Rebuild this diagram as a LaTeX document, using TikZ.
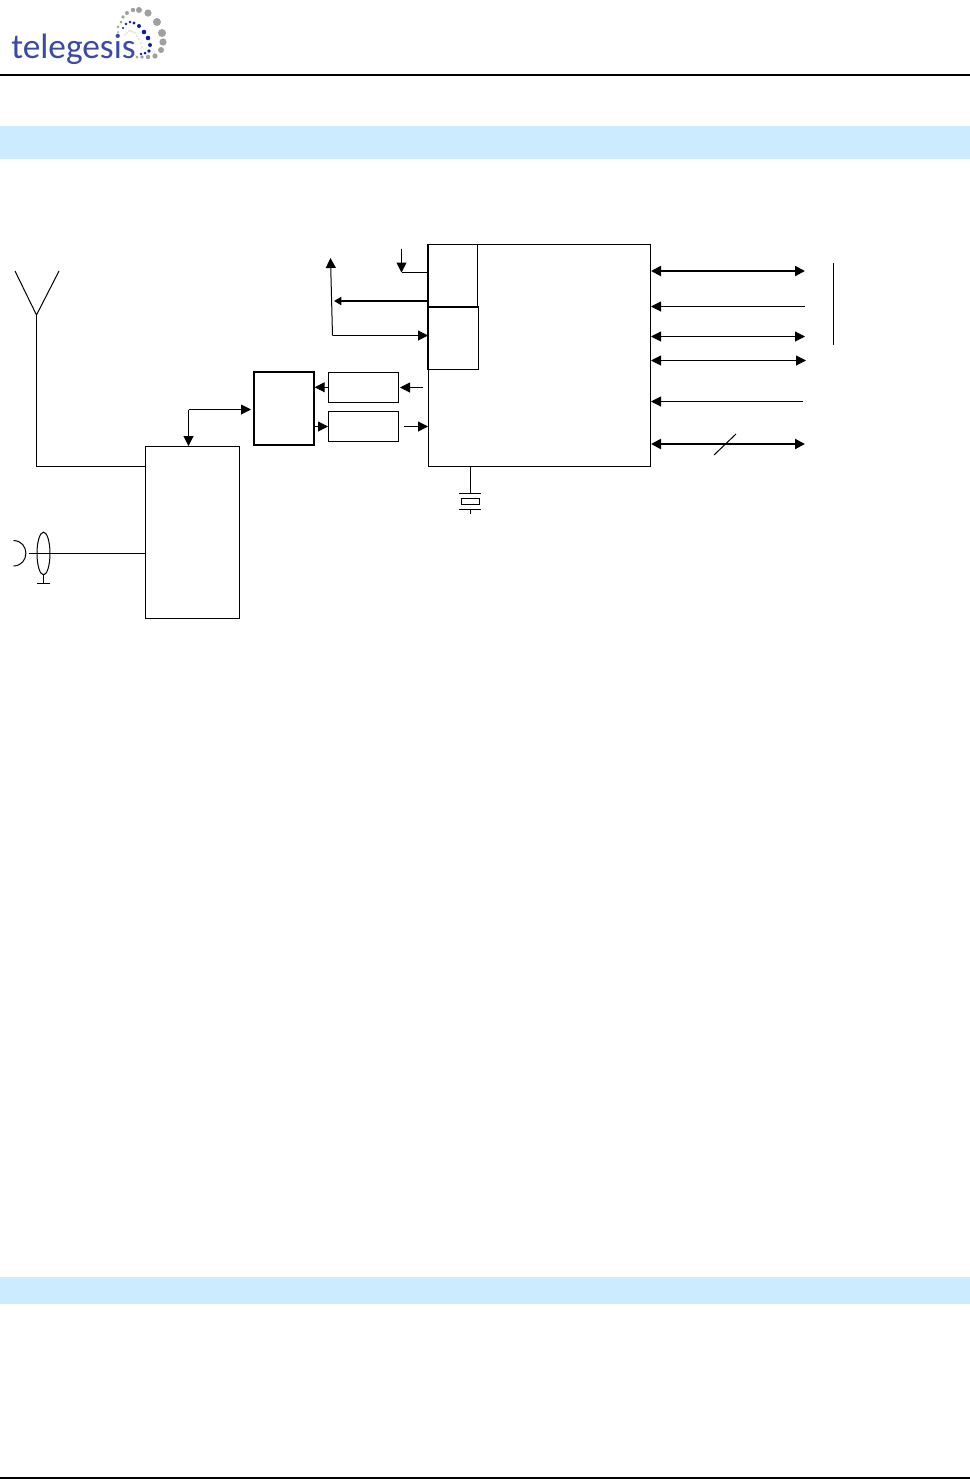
\documentclass[tikz,border=0pt]{standalone}
\usepackage{fontspec}
\setmainfont{Carlito}
\usetikzlibrary{arrows.meta,shapes.geometric}
\definecolor{band}{HTML}{CCEBFF}
\definecolor{logoblue}{HTML}{3A4AA6}
\definecolor{dotblue}{HTML}{10209A}
\definecolor{dotgrey}{HTML}{A0A0A0}
\tikzset{
 x=0.75pt,y=-0.75pt,
 conn/.style={line width=0.75pt,-{Triangle[length=7.5pt,width=7.5pt]}},
 dconn/.style={line width=0.75pt,{Triangle[length=7.5pt,width=7.5pt]}-{Triangle[length=7.5pt,width=7.5pt]}},
 thick conn/.style={line width=1.5pt,-{Triangle[length=5.5pt,width=6pt]}},
 thick dconn/.style={dconn,line width=1.5pt},
 wire/.style={line width=0.75pt},
 boxn/.style={draw,inner sep=0pt,line width=0.75pt,fill=white},
 heavy/.style={line width=1.1pt},
 gd/.style={fill=dotgrey,draw=none},
 bd/.style={fill=dotblue,draw=none},
}
\newcommand{\pxbox}[6]{\node[boxn,#6,minimum width={(#4-#2)*0.75pt},minimum height={(#5-#3)*0.75pt}] (#1) at ({(#2+#4)/2+0.5},{(#3+#5)/2+0.5}) {};}
\begin{document}
\begin{tikzpicture}
\useasboundingbox (0,0) rectangle (970,1479);
\fill[white] (0,0) rectangle (970,1479);
% bands and rules
\fill[band] (0,126) rectangle (970,159);
\fill[band] (0,1277) rectangle (970,1303.5);
\fill[black] (0,74) rectangle (970,76);
\fill[black] (0,1477) rectangle (970,1479);
% logo
\node[anchor=base west,inner sep=0pt,text=logoblue,font=\fontsize{26.5pt}{30pt}\selectfont] (logo) at (11,58) {telegesis};
\foreach \x/\y/\r in {139/10/3,148/13/3.6,157/22/4,162/33/4,163/42/3.6,161/50/3,155/56/2.6,148/57/2.2,142/57/1.8,137/57/1.5,133/10/2.2,127/13/2,123/17/1.8,121/22/1.5,118/27/1.3,118/32/1}
  \fill[gd] (\x,\y) circle[radius=\r];
\foreach \x/\y/\r in {123/28/1.1,126/24/1.3,130/22/1.4,134/23/1.6,139/26/2,144/32/2.3,148/38/2.3,150/45/2,149/51/1.8,145/53/1.5,141/54/1.3}
  \fill[bd] (\x,\y) circle[radius=\r];
\foreach \x/\y in {125/35,127/33,129/31,131/31,133/32,135/33,137/36,139/39,141/43,142/47}
  \fill[gd] (\x,\y) circle[radius=0.7];
% blocks
\pxbox{main}{428}{244}{650}{466}{}
\pxbox{subA}{428}{244}{477}{306}{}
\pxbox{subB}{428}{306.5}{478}{369}{}
\draw[line width=1.5pt,xshift=-0.375pt] (subA.north west) -- (subB.south west);
\draw[line width=1.5pt] (subB.north west) -- (subB.north east);
\pxbox{mid}{253.5}{371.5}{313.5}{444.5}{heavy}
\pxbox{upbox}{328}{371.5}{398}{402}{}
\pxbox{lowbox}{328}{411}{398}{441}{}
\pxbox{rf}{145}{446}{239}{618}{}
% named free ends
\coordinate (inTop) at (401.5,249);
\coordinate (cornerTop) at (401.5,272.5);
\coordinate (outLeft) at (334,301);
\coordinate (tipUp) at (330.5,258);
\coordinate (cornerLoop) at (332.5,335.5);
\coordinate (fromMainU) at (423,387.5);
\coordinate (toUp) at (400,387.5);
\coordinate (fromLow) at (404,426.5);
\coordinate (rfCorner) at (188.5,409.5);
\coordinate (rfTip) at (251,409.5);
% left of main
\draw[wire] (subA.west |- cornerTop) -- (cornerTop);
\draw[conn] (inTop) -- (cornerTop);
\draw[thick conn] (subA.west |- outLeft) -- (outLeft);
\draw[conn] (cornerLoop) -- (tipUp);
\draw[conn] (cornerLoop) -- (subB.west |- cornerLoop);
\draw[conn] (fromMainU) -- (toUp);
\draw[conn] (upbox.west) -- (mid.east |- upbox.west);
\draw[conn] (mid.east |- lowbox.west) -- (lowbox.west);
\draw[conn] (fromLow) -- (main.west |- fromLow);
\draw[conn] (rfCorner) -- (rfTip);
\draw[conn] (rfCorner) -- (rfCorner |- rf.north);
% right of main
\coordinate (r1) at (805,271);
\coordinate (r2) at (805,306.5);
\coordinate (r3) at (805,336.5);
\coordinate (r4) at (806,360.5);
\coordinate (r5) at (803,401.5);
\coordinate (r6) at (805,444);
\draw[thick dconn] (main.east |- r1) -- (r1);
\draw[conn] (r2) -- (main.east |- r2);
\draw[dconn] (main.east |- r3) -- (r3);
\draw[dconn] (main.east |- r4) -- (r4);
\draw[conn] (r5) -- (main.east |- r5);
\draw[thick dconn] (main.east |- r6) -- (r6);
\coordinate (slashA) at (714,455);
\coordinate (slashB) at (736,434);
\draw[wire] (slashA) -- (slashB);
\coordinate (barTop) at (833.5,263);
\coordinate (barBot) at (833.5,345);
\draw[wire] (barTop) -- (barBot);
% crystal
\coordinate (xtalTop) at (470.5,493.5);
\coordinate (xtalBot) at (470.5,509.5);
\coordinate (xtalEnd) at (470.5,514);
\draw[wire] (main.south -| xtalTop) -- (xtalTop);
\draw[wire] (459,493.5) -- (481,493.5);
\pxbox{xtal}{461}{498}{479}{504}{}
\draw[wire] (459,509.5) -- (481,509.5);
\draw[wire] (xtalBot) -- (xtalEnd);
% antenna
\coordinate (antBase) at (36.5,466.5);
\coordinate (antFork) at (36.5,315);
\coordinate (antL) at (15,271);
\coordinate (antR) at (59,271);
\draw[wire] (rf.west |- antBase) -- (antBase) -- (antFork);
\draw[wire] (antL) -- (antFork) -- (antR);
% connector symbol
\coordinate (jackEnd) at (29,553.5);
\draw[wire] (rf.west |- jackEnd) -- (jackEnd);
\node[draw,ellipse,line width=0.75pt,inner sep=0pt,minimum width=9.75pt,minimum height=32pt] (shell) at (43.5,553.5) {};
\coordinate (gndTop) at (43.5,583.5);
\draw[wire] (shell.south) -- (gndTop);
\draw[wire] (37,583.5) -- (50,583.5);
\draw[wire] (13.5,540.5) .. controls (30,541) and (30,565.5) .. (13.5,566);
\end{tikzpicture}
\end{document}
